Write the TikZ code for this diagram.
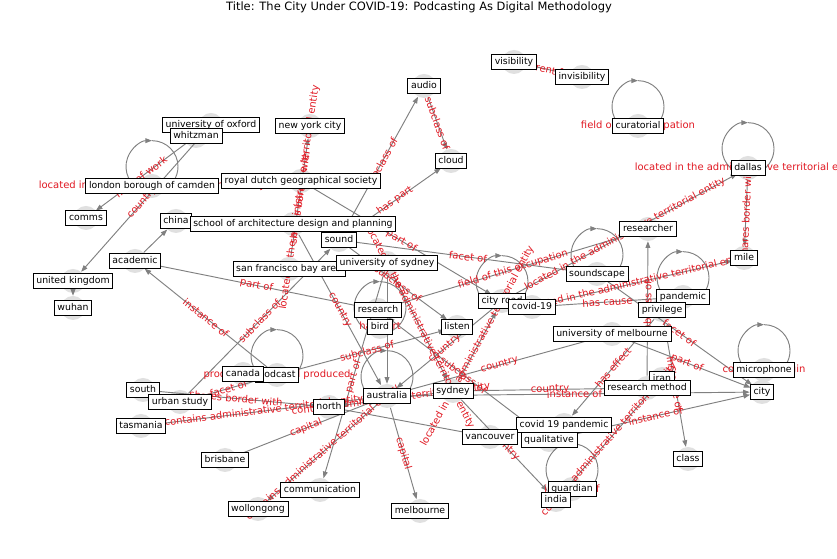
\documentclass[tikz,border=0pt]{standalone}
\usepackage{fontspec}
\setmainfont{DejaVu Sans}
\usetikzlibrary{arrows.meta,calc}
\definecolor{elabc}{RGB}{225,25,35}
\definecolor{edgec}{RGB}{128,128,128}
\definecolor{discc}{RGB}{224,224,224}
\tikzset{
 disc/.style={circle, fill=discc, draw=none, minimum size=18pt, inner sep=0pt},
 lbl/.style={draw=black, fill=white, line width=0.6pt, font=\fontsize{7}{8}\selectfont, inner xsep=2.4pt, inner ysep=2.5pt, text height=5.4pt, text depth=1.4pt},
 edge/.style={draw=edgec, line width=0.7pt, -{Triangle[length=5pt,width=3.6pt]}},
 plain/.style={draw=edgec, line width=0.7pt},
 elab/.style={text=elabc, font=\fontsize{7.5}{8.5}\selectfont, inner sep=0pt, sloped},
 looplab/.style={text=elabc, font=\fontsize{7.5}{8.5}\selectfont, inner sep=0pt},
}
\newcommand\sloop[1]{%
 \draw[edge] ($(#1)+(0,14.5pt)+(250:19.5pt)$) arc[start angle=250,end angle=90,radius=19.5pt];
 \draw[plain] ($(#1)+(0,14.5pt)+(90:19.5pt)$) arc[start angle=90,end angle=-70,radius=19.5pt];}
\newcommand\elab[3]{\path (#1.center) -- node[elab] {#3} (#2.center);}
\begin{document}
\begin{tikzpicture}[x=0.75pt,y=0.75pt]
\useasboundingbox[fill=white] (0,0) rectangle (837,559);
\node[font=\fontsize{8.6}{10}\selectfont] (title) at (419,552) {Title: The City Under COVID-19: Podcasting As Digital Methodology};
% discs
\node[disc] (vis) at (514,497) {};
\node[disc] (invis) at (582,482) {};
\node[disc] (audio) at (424,473) {};
\node[disc] (curat) at (638,433) {};
\node[disc] (oxford) at (211,434) {};
\node[disc] (whitz) at (196,423) {};
\node[disc] (nyc) at (310,433) {};
\node[disc] (cloud) at (451,398) {};
\node[disc] (dallas) at (748,391) {};
\node[disc] (rdgs) at (301,378) {};
\node[disc] (camden) at (152,373) {};
\node[disc] (comms) at (86,341) {};
\node[disc] (china) at (176,338) {};
\node[disc] (school) at (293,335) {};
\node[disc] (sound) at (339,319) {};
\node[disc] (researcher) at (648,330) {};
\node[disc] (academic) at (135,298) {};
\node[disc] (sfba) at (289,290) {};
\node[disc] (usyd) at (387,296) {};
\node[disc] (mile) at (744,301) {};
\node[disc] (uk) at (73,278) {};
\node[disc] (soundscape) at (597,285) {};
\node[disc] (pandemic) at (683,262) {};
\node[disc] (wuhan) at (73,251) {};
\node[disc] (cityroad) at (502,258) {};
\node[disc] (covid) at (532,252) {};
\node[disc] (privilege) at (662,249) {};
\node[disc] (research) at (378,249) {};
\node[disc] (bird) at (380,232) {};
\node[disc] (listen) at (457,232) {};
\node[disc] (unimelb) at (612,225) {};
\node[disc] (canada) at (243,185) {};
\node[disc] (podcast) at (277,184) {};
\node[disc] (south) at (143,169) {};
\node[disc] (micro) at (764,189) {};
\node[disc] (iran) at (662,180) {};
\node[disc] (resmethod) at (647,171) {};
\node[disc] (urban) at (180,157) {};
\node[disc] (sydney) at (453,168) {};
\node[disc] (australia) at (387,163) {};
\node[disc] (city) at (762,167) {};
\node[disc] (north) at (329,152) {};
\node[disc] (tasmania) at (141,133) {};
\node[disc] (cpand) at (564,134) {};
\node[disc] (vancouver) at (490,122) {};
\node[disc] (qual) at (549,119) {};
\node[disc] (class) at (688,100) {};
\node[disc] (brisbane) at (225,99) {};
\node[disc] (guardian) at (572,70) {};
\node[disc] (india) at (556,59) {};
\node[disc] (comm) at (320,69) {};
\node[disc] (wollongong) at (258,50) {};
\node[disc] (melbourne) at (420,48) {};
% self loops
\sloop{curat}\sloop{dallas}\sloop{camden}\sloop{soundscape}\sloop{pandemic}\sloop{cityroad}
\sloop{bird}\sloop{australia}\sloop{podcast}\sloop{micro}\sloop{guardian}
% edges
\draw[edge] (vis) -- (invis);
\draw[edge] (whitz) -- (comms);
\draw[edge] (oxford) -- (uk);
\draw[edge] (sfba) -- (nyc);
\draw[edge] (sound) -- (audio);
\draw[edge] (audio) -- (cloud);
\draw[edge] (sound) -- (cloud);
\draw[edge] (rdgs) -- (cityroad);
\draw[edge] (sound) -- (soundscape);
\draw[edge] (research) -- (researcher);
\draw[edge] (cityroad) -- (dallas);
\draw[edge] (dallas) -- (mile);
\draw[edge] (covid) -- (mile);
\draw[edge] (covid) -- (pandemic);
\draw[edge] (iran) -- (india);
\draw[edge] (sydney) -- (india);
\draw[edge] (usyd) -- (sydney);
\draw[edge] (sound) -- (listen);
\draw[edge] (school) -- (australia);
\draw[edge] (podcast) -- (academic);
\draw[edge] (academic) -- (china);
\draw[edge] (uk) -- (wuhan);
\draw[edge] (academic) -- (research);
\draw[edge] (urban) -- (sound);
\draw[edge] (sydney) -- (cityroad);
\draw[edge] (urban) -- (podcast);
\draw[edge] (south) -- (north);
\draw[edge] (australia) -- (tasmania);
\draw[edge] (sydney) -- (north);
\draw[edge] (brisbane) -- (australia);
\draw[edge] (australia) -- (melbourne);
\draw[edge] (australia) -- (wollongong);
\draw[edge] (usyd) -- (comm);
\draw[edge] (usyd) -- (australia);
\draw[edge] (cityroad) -- (australia);
\draw[edge] (unimelb) -- (australia);
\draw[edge] (qual) -- (research);
\draw[edge] (resmethod) -- (researcher);
\draw[edge] (privilege) -- (class);
\draw[edge] (soundscape) -- (city);
\draw[edge] (unimelb) -- (city);
\draw[edge] (australia) -- (city);
\draw[edge] (sydney) -- (resmethod);
\draw[edge] (qual) -- (city);
\draw[edge] (privilege) -- (cpand);
\draw[edge] (north) -- (vancouver);
\draw[edge] (podcast) -- (listen);
% edge labels
\elab{vis}{invis}{different from}
\elab{whitz}{comms}{field of work}
\elab{oxford}{uk}{country}
\elab{sfba}{nyc}{shares border with}
\elab{sfba}{nyc}{located in the administrative territorial entity}
\elab{sound}{audio}{subclass of}
\elab{audio}{cloud}{subclass of}
\elab{sound}{cloud}{has part}
\elab{rdgs}{cityroad}{part of}
\elab{sound}{soundscape}{facet of}
\elab{research}{researcher}{field of this occupation}
\elab{cityroad}{dallas}{located in the administrative territorial entity}
\elab{dallas}{mile}{shares border with}
\elab{covid}{mile}{located in the administrative territorial entity}
\elab{covid}{pandemic}{has cause}
\elab{iran}{india}{contains administrative territorial entity}
\elab{sydney}{india}{country}
\elab{usyd}{sydney}{located in the administrative territorial entity}
\elab{sound}{listen}{subclass of}
\elab{school}{australia}{country}
\elab{podcast}{academic}{instance of}
\elab{academic}{research}{part of}
\elab{urban}{sound}{subclass of}
\elab{sydney}{cityroad}{located in the administrative territorial entity}
\elab{urban}{podcast}{facet of}
\elab{south}{north}{shares border with}
\elab{australia}{tasmania}{contains administrative territorial entity}
\elab{sydney}{north}{contains administrative territorial entity}
\elab{brisbane}{australia}{capital}
\elab{australia}{melbourne}{capital}
\elab{australia}{wollongong}{contains administrative territorial entity}
\elab{usyd}{comm}{part of}
\elab{cityroad}{australia}{country}
\elab{unimelb}{australia}{country}
\elab{qual}{research}{subclass of}
\elab{resmethod}{researcher}{subclass of}
\elab{privilege}{class}{instance of}
\elab{soundscape}{city}{facet of}
\elab{unimelb}{city}{part of}
\elab{australia}{city}{instance of}
\elab{sydney}{resmethod}{country}
\elab{qual}{city}{instance of}
\elab{privilege}{cpand}{has effect}
\elab{podcast}{listen}{subclass of}
% loop labels
\node[looplab] (curat-ll) at (curat) {field of this occupation};
\node[looplab] (dallas-ll) at (dallas) {located in the administrative territorial entity};
\node[looplab] (camden-ll) at (camden) {located in the administrative territorial entity};
\node[looplab] (bird-ll) at (bird) {has part};
\node[looplab] (podcast-ll) at (podcast) {product or material produced};
\node[looplab] (micro-ll) at (micro) {country of origin};
\node[looplab] (guardian-ll) at (guardian) {instance of};
% label boxes
\node[lbl] (vis-l) at (vis) {visibility};
\node[lbl] (invis-l) at (invis) {invisibility};
\node[lbl] (audio-l) at (audio) {audio};
\node[lbl] (curat-l) at (curat) {curatorial};
\node[lbl] (oxford-l) at (oxford) {university of oxford};
\node[lbl] (whitz-l) at (whitz) {whitzman};
\node[lbl] (nyc-l) at (nyc) {new york city};
\node[lbl] (cloud-l) at (cloud) {cloud};
\node[lbl] (dallas-l) at (dallas) {dallas};
\node[lbl] (rdgs-l) at (rdgs) {royal dutch geographical society};
\node[lbl] (camden-l) at (camden) {london borough of camden};
\node[lbl] (comms-l) at (comms) {comms};
\node[lbl] (china-l) at (china) {china};
\node[lbl] (school-l) at (school) {school of architecture design and planning};
\node[lbl] (sound-l) at (sound) {sound};
\node[lbl] (researcher-l) at (researcher) {researcher};
\node[lbl] (academic-l) at (academic) {academic};
\node[lbl] (sfba-l) at (sfba) {san francisco bay area};
\node[lbl] (usyd-l) at (usyd) {university of sydney};
\node[lbl] (mile-l) at (mile) {mile};
\node[lbl] (uk-l) at (uk) {united kingdom};
\node[lbl] (soundscape-l) at (soundscape) {soundscape};
\node[lbl] (pandemic-l) at (pandemic) {pandemic};
\node[lbl] (wuhan-l) at (wuhan) {wuhan};
\node[lbl] (cityroad-l) at (cityroad) {city road};
\node[lbl] (covid-l) at (covid) {covid-19};
\node[lbl] (privilege-l) at (privilege) {privilege};
\node[lbl] (research-l) at (research) {research};
\node[lbl] (bird-l) at (bird) {bird};
\node[lbl] (listen-l) at (listen) {listen};
\node[lbl] (unimelb-l) at (unimelb) {university of melbourne};
\node[lbl] (podcast-l) at (podcast) {podcast};
\node[lbl] (canada-l) at (canada) {canada};
\node[lbl] (south-l) at (south) {south};
\node[lbl] (micro-l) at (micro) {microphone};
\node[lbl] (iran-l) at (iran) {iran};
\node[lbl] (resmethod-l) at (resmethod) {research method};
\node[lbl] (urban-l) at (urban) {urban study};
\node[lbl] (sydney-l) at (sydney) {sydney};
\node[lbl] (australia-l) at (australia) {australia};
\node[lbl] (city-l) at (city) {city};
\node[lbl] (north-l) at (north) {north};
\node[lbl] (tasmania-l) at (tasmania) {tasmania};
\node[lbl] (cpand-l) at (cpand) {covid 19 pandemic};
\node[lbl] (vancouver-l) at (vancouver) {vancouver};
\node[lbl] (qual-l) at (qual) {qualitative};
\node[lbl] (class-l) at (class) {class};
\node[lbl] (brisbane-l) at (brisbane) {brisbane};
\node[lbl] (guardian-l) at (guardian) {guardian};
\node[lbl] (india-l) at (india) {india};
\node[lbl] (comm-l) at (comm) {communication};
\node[lbl] (wollongong-l) at (wollongong) {wollongong};
\node[lbl] (melbourne-l) at (melbourne) {melbourne};
\end{tikzpicture}
\end{document}
